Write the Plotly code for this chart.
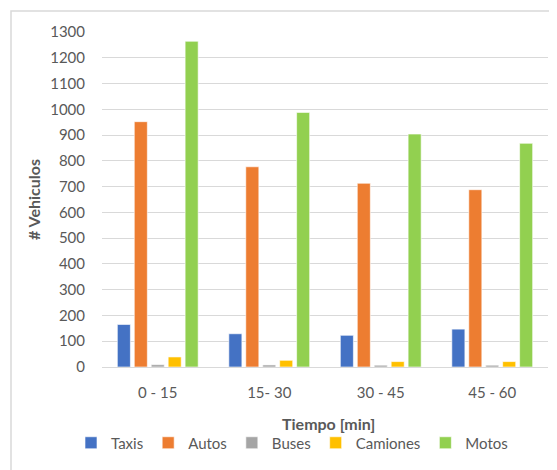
import plotly.graph_objects as go

categories = ["0 - 15", "15- 30", "30 - 45", "45 - 60"]
taxis = [165, 129, 123, 147]
autos = [952, 777, 713, 688]
buses = [9, 8, 7, 7]
camiones = [39, 26, 21, 21]
motos = [1264, 988, 904, 868]

series = [
    ("Taxis", taxis, "#4472C4"),
    ("Autos", autos, "#ED7D31"),
    ("Buses", buses, "#A5A5A5"),
    ("Camiones", camiones, "#FFC000"),
    ("Motos", motos, "#92D050"),
]

FONT = "Lato, Carlito, Calibri, sans-serif"
TXT = "#595959"

fig = go.Figure()
for name, vals, col in series:
    fig.add_trace(go.Bar(name=name, x=categories, y=vals,
                         marker=dict(color=col, line=dict(color="rgba(255,255,255,0.6)", width=1))))

OFF = 8  # page body margin
W, H = 557, 470
# plot area in page pixels: x 102..548, y 32..367
L, T = 102 - OFF, 32 - OFF
R, B = W - (548 - OFF), H - (367 - OFF)
pw, ph = W - L - R, H - T - B

def px(x):
    return (x - OFF - L) / pw

def py(y):
    return (H - B - (y - OFF)) / ph

fig.update_layout(
    width=W, height=H,
    margin=dict(l=L, r=R, t=T, b=B, autoexpand=False),
    paper_bgcolor="white", plot_bgcolor="white",
    barmode="group", bargap=0.24, bargroupgap=0.23,
    font=dict(family=FONT, size=15, color=TXT),
    showlegend=True,
    legend=dict(orientation="h", xref="paper", yref="paper",
                x=px(292), xanchor="center", y=py(443), yanchor="middle",
                font=dict(size=15, color=TXT), itemwidth=30, tracegroupgap=0,
                bgcolor="rgba(0,0,0,0)"),
    xaxis=dict(showgrid=False, showline=True, linecolor="#D9D9D9", linewidth=1,
               ticks="", tickfont=dict(size=15, color=TXT), ticklabelstandoff=12),
    yaxis=dict(range=[0, 1300], dtick=100, showgrid=True, gridcolor="#D9D9D9", gridwidth=1,
               zeroline=False, showline=False, ticks="", tickfont=dict(size=15, color=TXT),
               ticklabelstandoff=16),
    annotations=[
        dict(text="<b>Tiempo [min]</b>", xref="paper", yref="paper", x=px(328), y=py(423),
             xanchor="center", yanchor="middle", showarrow=False, font=dict(size=16, color=TXT)),
        dict(text="<b># Vehiculos</b>", xref="paper", yref="paper", x=px(33), y=py(200),
             xanchor="center", yanchor="middle", textangle=-90, showarrow=False,
             font=dict(size=16, color=TXT)),
    ],
    shapes=[
        dict(type="rect", xref="paper", yref="paper", x0=px(11), x1=px(580), y0=py(490), y1=py(11),
             line=dict(color="#D9D9D9", width=1.5), fillcolor="rgba(0,0,0,0)", layer="below"),
    ],
)

fig.write_html("out.html")
